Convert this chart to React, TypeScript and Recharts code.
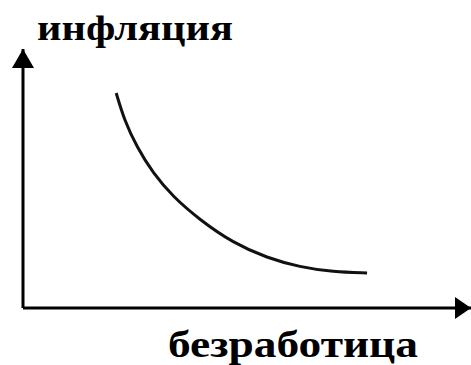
import { LineChart, Line, XAxis, YAxis, ReferenceDot, ReferenceLine, Customized } from "recharts";

// Phillips curve: unemployment (x) vs inflation (y), arbitrary units 0..100
const unemployment = [20.8, 22.6, 25.4, 29.0, 33.5, 39.5, 46.9, 54.5, 61.8, 69.2, 76.8];
const inflation = [83.0, 72.6, 62.2, 52.1, 42.9, 34.0, 25.1, 19.3, 15.8, 13.9, 13.5];

const yLabel = "инфляция";
const xLabel = "безработица";

const data = unemployment.map((u, i) => ({ u, inf: inflation[i] }));

const font = "Liberation Serif";

const UpArrow = (props: any) => {
  const { cx, cy } = props;
  return <polygon points={`${cx},${cy} ${cx - 11},${cy + 19} ${cx + 11},${cy + 19}`} fill="#000" />;
};

const RightArrow = (props: any) => {
  const { cx, cy } = props;
  return <polygon points={`${cx},${cy} ${cx - 16},${cy - 11} ${cx - 16},${cy + 11}`} fill="#000" />;
};

const AxisTitles = () => (
  <g fontFamily={font} fontWeight="bold" fill="#000">
    <text x={37} y={40} fontSize={36} textLength={196} lengthAdjust="spacingAndGlyphs">
      {yLabel}
    </text>
    <text x={168} y={357} fontSize={38} textLength={250} lengthAdjust="spacingAndGlyphs">
      {xLabel}
    </text>
  </g>
);

export default function App() {
  return (
    <div style={{ position: "absolute", left: 0, top: 0, background: "#fff" }}>
      <LineChart
        width={471}
        height={365}
        data={data}
        margin={{ top: 49, right: 0, left: 23, bottom: 57 }}
      >
        <XAxis dataKey="u" type="number" domain={[0, 100]} hide />
        <YAxis type="number" domain={[0, 100]} hide />
        <ReferenceLine x={0} stroke="#000" strokeWidth={3} ifOverflow="visible" />
        <ReferenceLine y={0} stroke="#000" strokeWidth={3} ifOverflow="visible" />
        <Line
          type="basis"
          dataKey="inf"
          stroke="#111"
          strokeWidth={3}
          dot={false}
          isAnimationActive={false}
        />
        <ReferenceDot x={0} y={100} shape={<UpArrow />} ifOverflow="visible" />
        <ReferenceDot x={100} y={0} shape={<RightArrow />} ifOverflow="visible" />
        <Customized component={<AxisTitles />} />
      </LineChart>
    </div>
  );
}
